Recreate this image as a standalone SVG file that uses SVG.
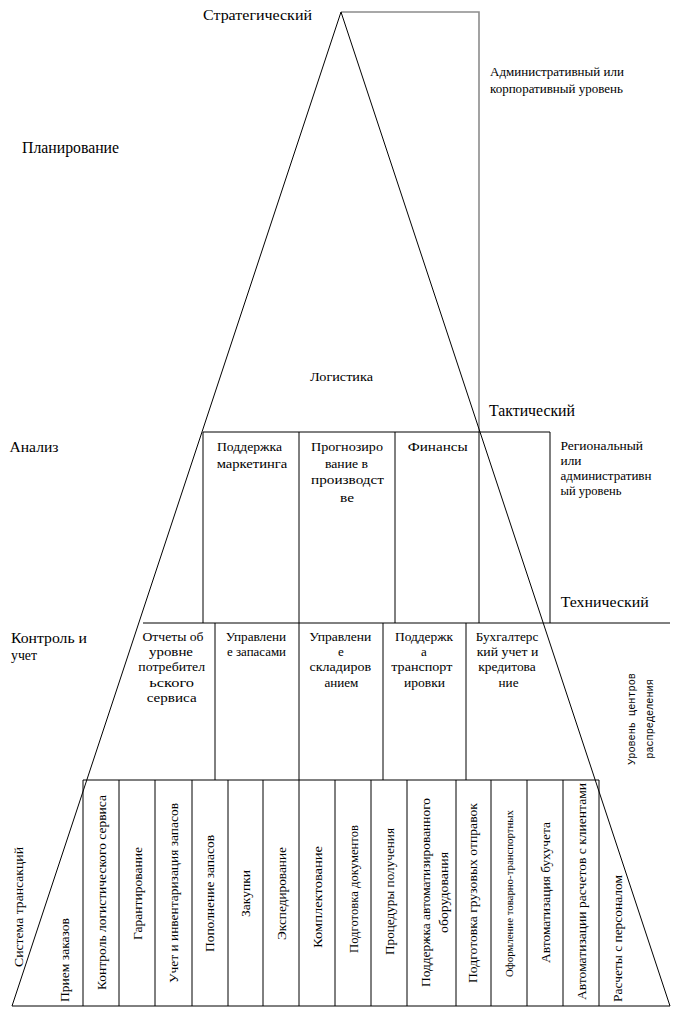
<svg xmlns="http://www.w3.org/2000/svg" width="673" height="1009" viewBox="0 0 673 1009">
<rect width="673" height="1009" fill="#fff"/>
<g id="connectors" fill="none" stroke="#000" stroke-width="1">
<path stroke="#8c8c8c" stroke-width="1.6" d="M341,12 H479 V432"/>
<path d="M341,12 L12,1006 H670 Z"/>
<path d="M203,432 H550 V623 M203,432 V623 M299,432 V623 M395,432 V623 M479,432 V623"/>
<path d="M143,623 H670"/>
<path d="M215,623 V780 M299,623 V780 M383,623 V780 M466,623 V780"/>
<path d="M83,780 H599 V1006 M83,780 V1006 M119,780 V1006 M155,780 V1006 M192,780 V1006 M228,780 V1006 M263,780 V1006 M299,780 V1006 M335,780 V1006 M371,780 V1006 M407,780 V1006 M456,780 V1006 M491,780 V1006 M527,780 V1006 M563,780 V1006"/>
</g>
<g id="levels">
<text font-family="Liberation Serif" x="203" y="19.5" font-size="15" textLength="109" lengthAdjust="spacingAndGlyphs">Стратегический</text>
<text font-family="Liberation Serif" x="490" y="76" font-size="12.5" textLength="134" lengthAdjust="spacingAndGlyphs">Административный или</text>
<text font-family="Liberation Serif" x="490" y="92.5" font-size="12.5" textLength="133" lengthAdjust="spacingAndGlyphs">корпоративный уровень</text>
<text font-family="Liberation Serif" x="22" y="152.7" font-size="16" textLength="97" lengthAdjust="spacingAndGlyphs">Планирование</text>
<text font-family="Liberation Serif" x="310" y="381" font-size="13" textLength="63" lengthAdjust="spacingAndGlyphs">Логистика</text>
<text font-family="Liberation Serif" x="489" y="416" font-size="16" textLength="86" lengthAdjust="spacingAndGlyphs">Тактический</text>
<text font-family="Liberation Serif" x="9.5" y="451.7" font-size="14" textLength="49" lengthAdjust="spacingAndGlyphs">Анализ</text>
<text font-family="Liberation Serif" x="560.5" y="450" font-size="12.5" textLength="82.6" lengthAdjust="spacingAndGlyphs">Региональный</text>
<text font-family="Liberation Serif" x="560.5" y="465" font-size="12.5" textLength="21" lengthAdjust="spacingAndGlyphs">или</text>
<text font-family="Liberation Serif" x="560.5" y="480" font-size="12.5" textLength="91" lengthAdjust="spacingAndGlyphs">административн</text>
<text font-family="Liberation Serif" x="560.5" y="495" font-size="12.5" textLength="61" lengthAdjust="spacingAndGlyphs">ый уровень</text>
<text font-family="Liberation Serif" x="560.7" y="606.7" font-size="14" textLength="88" lengthAdjust="spacingAndGlyphs">Технический</text>
<text font-family="Liberation Serif" x="11" y="642.7" font-size="14" textLength="76" lengthAdjust="spacingAndGlyphs">Контроль и</text>
<text font-family="Liberation Serif" x="11" y="660" font-size="14" textLength="26" lengthAdjust="spacingAndGlyphs">учет</text>
<g transform="translate(635,719) rotate(-90)"><text font-family="Liberation Mono" font-size="10.2" text-anchor="middle" x="0" y="0">Уровень центров</text><text font-family="Liberation Mono" font-size="10.2" text-anchor="middle" x="0" y="17.5">распределения</text></g>
</g>
<g id="analysis">
<text font-family="Liberation Serif" font-size="13" text-anchor="middle" x="249.5" y="451" textLength="65" lengthAdjust="spacingAndGlyphs">Поддержка</text>
<text font-family="Liberation Serif" font-size="13" text-anchor="middle" x="252" y="467.7" textLength="70.6" lengthAdjust="spacingAndGlyphs">маркетинга</text>
<text font-family="Liberation Serif" font-size="13" text-anchor="middle" x="347" y="451" textLength="72" lengthAdjust="spacingAndGlyphs">Прогнозиро</text>
<text font-family="Liberation Serif" font-size="13" text-anchor="middle" x="346.5" y="467.5" textLength="43" lengthAdjust="spacingAndGlyphs">вание в</text>
<text font-family="Liberation Serif" font-size="13" text-anchor="middle" x="347.5" y="484.3" textLength="73" lengthAdjust="spacingAndGlyphs">производст</text>
<text font-family="Liberation Serif" font-size="13" text-anchor="middle" x="347" y="501.5" textLength="14" lengthAdjust="spacingAndGlyphs">ве</text>
<text font-family="Liberation Serif" font-size="13" text-anchor="middle" x="437.7" y="450.7" textLength="60" lengthAdjust="spacingAndGlyphs">Финансы</text>
</g>
<g id="control">
<text font-family="Liberation Serif" font-size="13" text-anchor="middle" x="173" y="640.7" textLength="61" lengthAdjust="spacingAndGlyphs">Отчеты об</text>
<text font-family="Liberation Serif" font-size="13" text-anchor="middle" x="171" y="656" textLength="44" lengthAdjust="spacingAndGlyphs">уровне</text>
<text font-family="Liberation Serif" font-size="13" text-anchor="middle" x="171.7" y="671.3" textLength="66.7" lengthAdjust="spacingAndGlyphs">потребител</text>
<text font-family="Liberation Serif" font-size="13" text-anchor="middle" x="171.7" y="686.5" textLength="44.7" lengthAdjust="spacingAndGlyphs">ьского</text>
<text font-family="Liberation Serif" font-size="13" text-anchor="middle" x="171.7" y="701.7" textLength="50" lengthAdjust="spacingAndGlyphs">сервиса</text>
<text font-family="Liberation Serif" font-size="13" text-anchor="middle" x="256" y="640.7" textLength="60.4" lengthAdjust="spacingAndGlyphs">Управлени</text>
<text font-family="Liberation Serif" font-size="13" text-anchor="middle" x="256.5" y="656" textLength="59" lengthAdjust="spacingAndGlyphs">е запасами</text>
<text font-family="Liberation Serif" font-size="13" text-anchor="middle" x="340.3" y="640.7" textLength="62" lengthAdjust="spacingAndGlyphs">Управлени</text>
<text font-family="Liberation Serif" font-size="13" text-anchor="middle" x="341" y="656">е</text>
<text font-family="Liberation Serif" font-size="13" text-anchor="middle" x="340.3" y="671.3" textLength="61.5" lengthAdjust="spacingAndGlyphs">складиров</text>
<text font-family="Liberation Serif" font-size="13" text-anchor="middle" x="341.4" y="686.5" textLength="34" lengthAdjust="spacingAndGlyphs">анием</text>
<text font-family="Liberation Serif" font-size="13" text-anchor="middle" x="424" y="640.7" textLength="58" lengthAdjust="spacingAndGlyphs">Поддержк</text>
<text font-family="Liberation Serif" font-size="13" text-anchor="middle" x="424" y="656">а</text>
<text font-family="Liberation Serif" font-size="13" text-anchor="middle" x="421.8" y="671.3" textLength="61" lengthAdjust="spacingAndGlyphs">транспорт</text>
<text font-family="Liberation Serif" font-size="13" text-anchor="middle" x="424.5" y="686.5" textLength="41" lengthAdjust="spacingAndGlyphs">ировки</text>
<text font-family="Liberation Serif" font-size="13" text-anchor="middle" x="507" y="640.7" textLength="62.5" lengthAdjust="spacingAndGlyphs">Бухгалтерс</text>
<text font-family="Liberation Serif" font-size="13" text-anchor="middle" x="507.5" y="656" textLength="61.7" lengthAdjust="spacingAndGlyphs">кий учет и</text>
<text font-family="Liberation Serif" font-size="13" text-anchor="middle" x="507" y="671.3" textLength="57.4" lengthAdjust="spacingAndGlyphs">кредитова</text>
<text font-family="Liberation Serif" font-size="13" text-anchor="middle" x="508.5" y="686.5" textLength="20" lengthAdjust="spacingAndGlyphs">ние</text>
</g>
<g id="transactions">
<text font-family="Liberation Serif" font-size="13.5" transform="translate(22.5,967) rotate(-90)" textLength="120" lengthAdjust="spacingAndGlyphs">Система трансакций</text>
<text font-family="Liberation Serif" font-size="13.5" transform="translate(68.8,1002) rotate(-90)" textLength="84" lengthAdjust="spacingAndGlyphs">Прием заказов</text>
<text font-family="Liberation Serif" font-size="13.5" text-anchor="middle" transform="translate(105.5,892.5) rotate(-90)" textLength="195" lengthAdjust="spacingAndGlyphs">Контроль логистического сервиса</text>
<text font-family="Liberation Serif" font-size="13.5" text-anchor="middle" transform="translate(141.5,893.5) rotate(-90)" textLength="93" lengthAdjust="spacingAndGlyphs">Гарантирование</text>
<text font-family="Liberation Serif" font-size="13.5" text-anchor="middle" transform="translate(178,893) rotate(-90)" textLength="180" lengthAdjust="spacingAndGlyphs">Учет и инвентаризация запасов</text>
<text font-family="Liberation Serif" font-size="13.5" text-anchor="middle" transform="translate(214,893.5) rotate(-90)" textLength="117" lengthAdjust="spacingAndGlyphs">Пополнение запасов</text>
<text font-family="Liberation Serif" font-size="13.5" text-anchor="middle" transform="translate(249.5,893.5) rotate(-90)" textLength="47" lengthAdjust="spacingAndGlyphs">Закупки</text>
<text font-family="Liberation Serif" font-size="13.5" text-anchor="middle" transform="translate(285.5,893.5) rotate(-90)" textLength="93" lengthAdjust="spacingAndGlyphs">Экспедирование</text>
<text font-family="Liberation Serif" font-size="13.5" text-anchor="middle" transform="translate(321.5,897) rotate(-90)" textLength="102" lengthAdjust="spacingAndGlyphs">Комплектование</text>
<text font-family="Liberation Serif" font-size="13.5" text-anchor="middle" transform="translate(357.5,889) rotate(-90)" textLength="128" lengthAdjust="spacingAndGlyphs">Подготовка документов</text>
<text font-family="Liberation Serif" font-size="13.5" text-anchor="middle" transform="translate(393.5,891.5) rotate(-90)" textLength="127" lengthAdjust="spacingAndGlyphs">Процедуры получения</text>
<text font-family="Liberation Serif" font-size="13.5" text-anchor="middle" transform="translate(429.5,892.5) rotate(-90)" textLength="189" lengthAdjust="spacingAndGlyphs">Поддержка автоматизированного</text>
<text font-family="Liberation Serif" font-size="13.5" text-anchor="middle" transform="translate(447.5,892.5) rotate(-90)" textLength="81" lengthAdjust="spacingAndGlyphs">оборудования</text>
<text font-family="Liberation Serif" font-size="13.5" text-anchor="middle" transform="translate(477,893) rotate(-90)" textLength="180" lengthAdjust="spacingAndGlyphs">Подготовка грузовых отправок</text>
<text font-family="Liberation Serif" font-size="11" text-anchor="middle" transform="translate(512.5,893.5) rotate(-90)" textLength="167" lengthAdjust="spacingAndGlyphs">Оформление товарно-транспортных</text>
<text font-family="Liberation Serif" font-size="13.5" text-anchor="middle" transform="translate(549.5,892.5) rotate(-90)" textLength="141" lengthAdjust="spacingAndGlyphs">Автоматизация бухучета</text>
<text font-family="Liberation Serif" font-size="13.5" text-anchor="middle" transform="translate(585.5,891.5) rotate(-90)" textLength="217" lengthAdjust="spacingAndGlyphs">Автоматизации расчетов с клиентами</text>
<text font-family="Liberation Serif" font-size="13.5" transform="translate(622,1002) rotate(-90)" textLength="127" lengthAdjust="spacingAndGlyphs">Расчеты с персоналом</text>
</g>
</svg>
